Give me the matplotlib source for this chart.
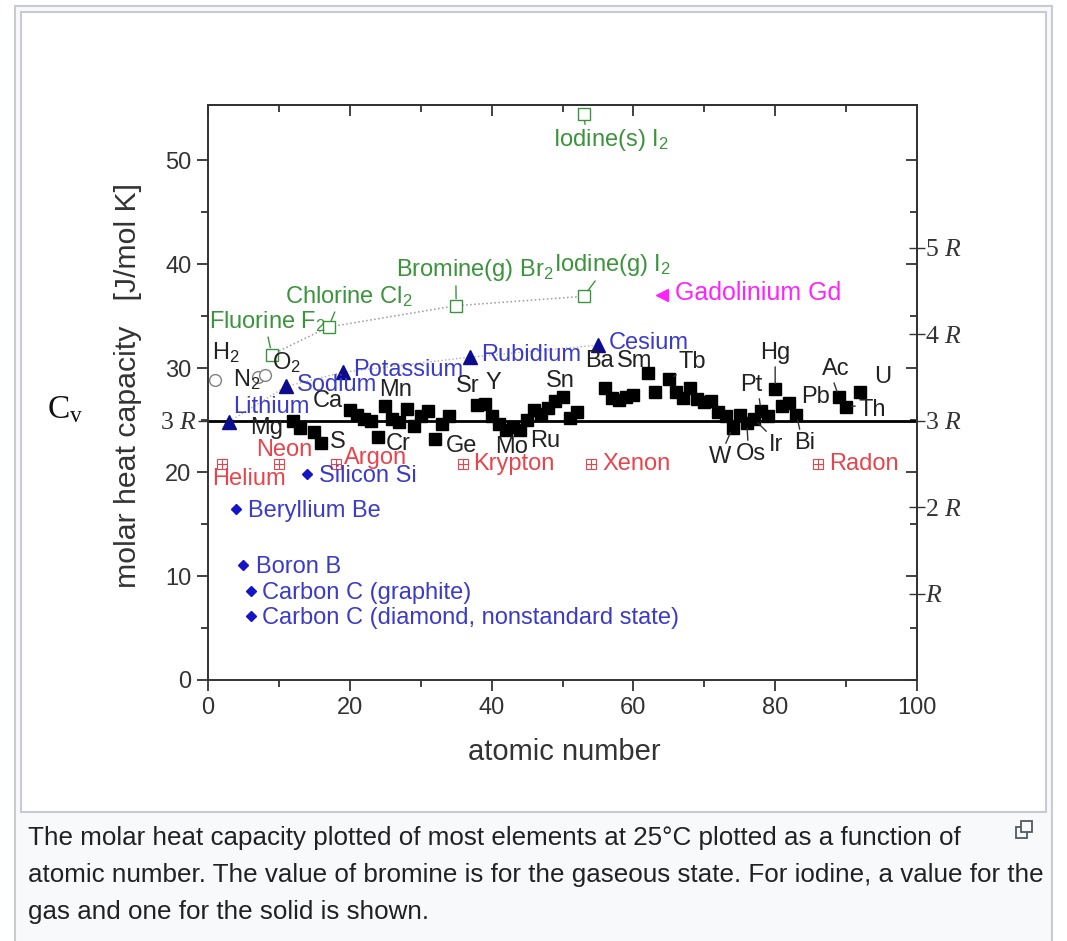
import matplotlib
matplotlib.use('Agg')
import matplotlib.pyplot as plt
from matplotlib.patches import Rectangle

plt.rcParams['font.family'] = ['Liberation Sans', 'DejaVu Sans']
plt.rcParams['mathtext.fontset'] = 'custom'
plt.rcParams['mathtext.rm'] = 'Liberation Sans'
plt.rcParams['mathtext.it'] = 'Liberation Serif:italic'
plt.rcParams['mathtext.sf'] = 'Liberation Serif'

R = 8.314

# ---------------- data ----------------
metal_z = [12, 13, 15, 16,
           20, 21, 22, 23, 24, 25, 26, 27, 28, 29, 30, 31, 32, 33, 34,
           38, 39, 40, 41, 42, 43, 44, 45, 46, 47, 48, 49, 50, 51, 52,
           56, 57, 58, 59, 60, 62, 63, 65, 66, 67, 68, 69, 70, 71, 72, 73,
           74, 75, 76, 77, 78, 79, 80, 81, 82, 83,
           89, 90, 92]
metal_cp = [24.87, 24.20, 23.82, 22.75,
            25.93, 25.52, 25.06, 24.89, 23.35, 26.32, 25.10, 24.81, 26.07, 24.44, 25.39, 25.86, 23.22, 24.64, 25.36,
            26.40, 26.53, 25.36, 24.60, 24.06, 24.30, 24.06, 24.98, 25.98, 25.60, 26.20, 26.80, 27.20, 25.23, 25.73,
            28.07, 27.11, 26.94, 27.20, 27.45, 29.54, 27.66, 28.91, 27.70, 27.15, 28.12, 27.03, 26.74, 26.86, 25.73, 25.36,
            24.27, 25.48, 24.70, 25.10, 25.86, 25.42, 27.98, 26.32, 26.65, 25.52,
            27.20, 26.23, 27.67]

alkali_z = [3, 11, 19, 37, 55]
alkali_cp = [24.86, 28.23, 29.60, 31.06, 32.21]

covalent_z = [4, 5, 6, 6, 14]
covalent_cp = [16.44, 11.09, 8.52, 6.12, 19.79]

noble_z = [2, 10, 18, 36, 54, 86]
noble_cp = [20.79, 20.79, 20.79, 20.79, 20.79, 20.79]

gas_z = [1, 7, 8]
gas_cp = [28.82, 29.12, 29.38]

halogen_z = [9, 17, 35, 53]
halogen_cp = [31.30, 33.95, 36.00, 36.90]

iodine_solid_z = [53]
iodine_solid_cp = [54.44]

gd_z = [64]
gd_cp = [37.03]

x_major = [0, 20, 40, 60, 80, 100]
x_minor = [10, 30, 50, 70, 90]
y_major = [0, 10, 20, 30, 40, 50]
y_minor = [5, 15, 25, 35, 45]
r_mult = [1, 2, 3, 4, 5]
r_labels = ['$\\mathit{R}$', '2 $\\mathit{R}$', '3 $\\mathit{R}$', '4 $\\mathit{R}$', '5 $\\mathit{R}$']

# labels: (text, x, y)
black_labels = [("H$_2$", 0.56, 31.5), ("N$_2$", 3.53, 28.85), ("O$_2$", 9.03, 30.48),
                ("Mg", 5.92, 24.23), ("Ca", 14.81, 26.83), ("S", 17.2, 22.88),
                ("Mn", 24.12, 27.88), ("Cr", 25.1, 22.69), ("Ge", 33.57, 22.5),
                ("Sr", 34.98, 28.27), ("Y", 39.07, 28.56), ("Mo", 40.48, 22.4),
                ("Ru", 45.4, 22.98), ("Sn", 47.67, 28.75), ("Ba", 53.17, 30.67),
                ("Sm", 57.69, 30.67), ("Pb", 83.64, 27.21), ("U", 93.93, 29.13)]
# (text, point z, point cp, text x, text y, relpos)
black_leaders = [("Tb", 65, 28.91, 66.43, 30.58, (0, 0)),
                 ("Hg", 80, 27.98, 77.86, 31.44, (0.5, 0)),
                 ("Pt", 78, 25.86, 75.04, 28.37, (0.85, 0)),
                 ("W", 74, 24.27, 70.66, 21.44, (0.7, 1)),
                 ("Os", 76, 24.70, 74.47, 21.73, (0.4, 1)),
                 ("Ir", 77, 25.10, 79.13, 22.6, (0, 1)),
                 ("Bi", 83, 25.52, 82.65, 22.79, (0.3, 1)),
                 ("Ac", 89, 27.20, 86.6, 29.9, (0.4, 0)),
                 ("Th", 90, 26.23, 91.68, 25.96, (0, 0.7))]
blue_labels = [("Lithium", 3.53, 26.25), ("Sodium", 12.55, 28.37), ("Potassium", 20.45, 29.8),
               ("Rubidium", 38.5, 31.25), ("Cesium", 56.56, 32.4), ("Silicon Si", 15.66, 19.6),
               ("Beryllium Be", 5.64, 16.25), ("Boron B", 6.77, 10.87),
               ("Carbon C (graphite)", 7.62, 8.37),
               ("Carbon C (diamond, nonstandard state)", 7.62, 5.96)]
red_labels = [("Helium", 0.56, 19.33), ("Neon", 6.77, 22.12), ("Argon", 19.18, 21.35),
              ("Krypton", 37.38, 20.77), ("Xenon", 55.57, 20.77), ("Radon", 87.59, 20.77)]
green_leaders = [("Fluorine F$_2$", 9, 31.30, 0.14, 34.42, (0.5, 0)),
                 ("Chlorine Cl$_2$", 17, 33.95, 10.86, 36.83, (0.4, 0)),
                 ("Bromine(g) Br$_2$", 35, 36.00, 26.52, 39.42, (0.38, 0)),
                 ("Iodine(g) I$_2$", 53, 36.90, 48.8, 39.9, (0.37, 0)),
                 ("Iodine(s) I$_2$", 53, 54.44, 48.66, 51.92, (0.28, 1))]
gd_label = ("Gadolinium Gd", 65.87, 37.21)

caption = ["The molar heat capacity plotted of most elements at 25°C plotted as a function of",
           "atomic number. The value of bromine is for the gaseous state. For iodine, a value for the",
           "gas and one for the solid is shown."]

# ---------------- colours ----------------
C_BLUE_T = '#3b3bc8'
C_BLUE_M = '#0c0c8c'
C_DIAM = '#1515c8'
C_RED = '#e8444c'
C_GREEN = '#3b943b'
C_MAG = '#ff22ff'
C_AX = '#333333'
FS = 17

W, H = 1067, 941
fig = plt.figure(figsize=(W / 100, H / 100), dpi=100)
fig.patch.set_facecolor('white')


def fx(px):
    return px / W


def fy(py):
    return 1 - py / H


fig.patches.append(Rectangle((fx(15), -0.01), fx(1052) - fx(15), fy(6) + 0.01,
                             transform=fig.transFigure, facecolor='#f8f9fa',
                             edgecolor='#c8ccd1', lw=1.5, zorder=-2))
fig.patches.append(Rectangle((fx(21), fy(812)), fx(1046) - fx(21), fy(12) - fy(812),
                             transform=fig.transFigure, facecolor='white',
                             edgecolor='#c8ccd1', lw=1.5, zorder=-1))

ax = fig.add_axes([fx(208), fy(680), fx(917) - fx(208), fy(105) - fy(680)])
ax.set_zorder(1)
ax.patch.set_alpha(0)
ax.set_xlim(0, 100)
ax.set_ylim(0, 55.3)
for s in ax.spines.values():
    s.set_color(C_AX)
    s.set_linewidth(1.4)

ax.set_xticks(x_major)
ax.set_xticks(x_minor, minor=True)
ax.set_yticks(y_major)
ax.set_yticks(y_minor, minor=True)
ax.tick_params(which='major', direction='out', length=8, width=1.3, color=C_AX,
               labelsize=FS, labelcolor=C_AX, pad=4)
ax.tick_params(which='minor', direction='out', length=5, width=1.3, color=C_AX)

top = ax.secondary_xaxis('top')
top.set_xticks(x_major)
top.set_xticks(x_minor, minor=True)
top.tick_params(which='major', direction='in', length=8, width=1.3, color=C_AX, labeltop=False)
top.tick_params(which='minor', direction='in', length=5, width=1.3, color=C_AX)
top.spines['top'].set_color(C_AX)
top.spines['top'].set_linewidth(1.4)

rin = ax.secondary_yaxis('right')
rin.set_yticks(y_major)
rin.set_yticks(y_minor, minor=True)
rin.tick_params(which='major', direction='in', length=8, width=1.3, color=C_AX, labelright=False)
rin.tick_params(which='minor', direction='in', length=5, width=1.3, color=C_AX)
rin.spines['right'].set_color(C_AX)
rin.spines['right'].set_linewidth(1.4)

rr = ax.secondary_yaxis('right')
rr.set_yticks([m * R for m in r_mult], labels=r_labels)
rr.tick_params(direction='inout', length=12, width=1.0, color=C_AX, labelcolor=C_AX,
               labelsize=18.5, pad=0)
for lab in rr.get_yticklabels():
    lab.set_fontfamily('Liberation Serif')
rr.spines['right'].set_visible(False)

lr = ax.secondary_yaxis('left')
lr.set_yticks([3 * R], labels=['3 $\\mathit{R}$'])
lr.tick_params(direction='inout', length=14, width=1.0, color=C_AX, labelcolor=C_AX,
               labelsize=18.5, pad=1)
for lab in lr.get_yticklabels():
    lab.set_fontfamily('Liberation Serif')
lr.spines['left'].set_visible(False)

ax.axhline(3 * R, color='black', lw=2, zorder=2)

# dotted guide lines
ax.plot(halogen_z, halogen_cp, ':', color='#9a9a9a', lw=1.1, zorder=2)
ax.plot(alkali_z, alkali_cp, ':', color='#b0b0b0', lw=1.0, zorder=2)

# markers
ax.plot(metal_z, metal_cp, 's', color='black', ms=8.6, zorder=4)
ax.plot(alkali_z, alkali_cp, '^', color=C_BLUE_M, ms=9.5, zorder=4)
ax.plot(covalent_z, covalent_cp, 'D', color=C_DIAM, ms=5, zorder=4)
ax.plot(noble_z, noble_cp, 's', ms=7, mfc='none', mec=C_RED, mew=0.8, zorder=4)
ax.plot(noble_z, noble_cp, '+', ms=7, color=C_RED, mew=0.8, zorder=4)
ax.plot(gas_z, gas_cp, 'o', ms=8.5, mfc='white', mec='#808080', mew=1.0, zorder=4)
ax.plot(halogen_z, halogen_cp, 's', ms=8.5, mfc='white', mec=C_GREEN, mew=1.0, zorder=4)
ax.plot(iodine_solid_z, iodine_solid_cp, 's', ms=8.5, mfc='white', mec=C_GREEN, mew=1.0,
        zorder=4, clip_on=False)
ax.plot(gd_z, gd_cp, '<', color=C_MAG, ms=8, zorder=4)

# labels
for t, x, y in black_labels:
    ax.text(x, y, t, color='#222222', fontsize=FS, ha='left', va='center', zorder=5)
for t, x, y in blue_labels:
    ax.text(x, y, t, color=C_BLUE_T, fontsize=FS, ha='left', va='center', zorder=5)
for t, x, y in red_labels:
    ax.text(x, y, t, color=C_RED, fontsize=FS, ha='left', va='center', zorder=5)
ax.text(gd_label[1], gd_label[2], gd_label[0], color=C_MAG, fontsize=18, ha='left',
        va='center', zorder=5)
for t, pz, pc, tx, ty, rp in black_leaders:
    ax.annotate(t, xy=(pz, pc), xytext=(tx, ty), textcoords='data', color='#222222',
                fontsize=FS, ha='left', va='center', zorder=5,
                arrowprops=dict(arrowstyle='-', color='#333333', lw=1.0, shrinkA=0,
                                shrinkB=4, relpos=rp))
for t, pz, pc, tx, ty, rp in green_leaders:
    ax.annotate(t, xy=(pz, pc), xytext=(tx, ty), textcoords='data', color=C_GREEN,
                fontsize=FS, ha='left', va='center', zorder=5, annotation_clip=False,
                arrowprops=dict(arrowstyle='-', color=C_GREEN, lw=1.0, shrinkA=0,
                                shrinkB=5, relpos=rp))

# axis titles
fig.text(fx(564), fy(752), 'atomic number', fontsize=21, color=C_AX, ha='center', va='center')
fig.text(fx(128), fy(386), 'molar heat capacity   [J/mol K]', fontsize=21.8, color=C_AX,
         ha='center', va='center', rotation=90)
fig.text(fx(47), fy(410), 'C$_{\\mathsf{v}}$', fontsize=24, color='#111111',
         family='Liberation Serif', ha='left', va='center')

# caption
for i, line in enumerate(caption):
    fig.text(fx(28), fy(838 + 37 * i), line, fontsize=18.7, color='#202122',
             ha='left', va='center')

# enlarge icon
fig.patches.append(Rectangle((fx(1016), fy(838)), fx(11) - fx(0), fy(0) - fy(11),
                             transform=fig.transFigure, facecolor='none',
                             edgecolor='#54595d', lw=1.3))
fig.patches.append(Rectangle((fx(1021), fy(832)), fx(11) - fx(0), fy(0) - fy(11),
                             transform=fig.transFigure, facecolor='#f8f9fa',
                             edgecolor='#54595d', lw=1.3))

fig.savefig('out.png', dpi=100)
